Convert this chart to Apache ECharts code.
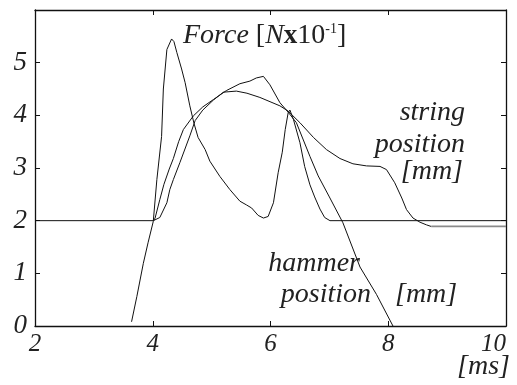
<!DOCTYPE html>
<html>
<head>
<meta charset="utf-8">
<script src="https://cdn.jsdelivr.net/npm/echarts@6/dist/echarts.min.js"></script>
<style>
  html, body { margin: 0; padding: 0; background: #fff; }
  #chart { width: 517px; height: 385px; }
</style>
</head>
<body>
<div id="chart"></div>
<script>
// time [ms] , value
const xTicks = [2, 4, 6, 8, 10]
const yTicks = [0, 1, 2, 3, 4, 5, 6]

// Force [N x 10^-1], drawn offset on the 2 line
const force = [
  [2, 2], [4.01, 2], [4.07, 2.78], [4.15, 3.6], [4.18, 4.5], [4.24, 5.25], [4.32, 5.45],
  [4.36, 5.4], [4.41, 5.19], [4.49, 4.88], [4.55, 4.62], [4.63, 4.18], [4.7, 3.85],
  [4.77, 3.58], [4.89, 3.35], [4.97, 3.13], [5.14, 2.84], [5.31, 2.59], [5.48, 2.37],
  [5.59, 2.3], [5.68, 2.24], [5.79, 2.1], [5.88, 2.05], [5.96, 2.08], [6.05, 2.34],
  [6.13, 2.91], [6.2, 3.3], [6.25, 3.73], [6.3, 4.05], [6.33, 4.1], [6.39, 3.92],
  [6.5, 3.48], [6.58, 3.03], [6.67, 2.68], [6.75, 2.45], [6.84, 2.22], [6.92, 2.06],
  [7.01, 2], [10, 2]
]

// hammer position [mm]
const hammer = [
  [3.64, 0.08], [3.73, 0.56], [3.84, 1.19], [3.92, 1.58], [4.01, 1.99], [4.04, 2.05],
  [4.12, 2.4], [4.19, 2.69], [4.28, 2.98], [4.35, 3.18], [4.44, 3.5], [4.52, 3.73],
  [4.69, 3.99], [4.85, 4.16], [5.03, 4.3], [5.25, 4.47], [5.48, 4.6], [5.65, 4.65],
  [5.76, 4.71], [5.88, 4.74], [5.99, 4.58], [6.16, 4.24], [6.3, 4.06], [6.44, 3.86],
  [6.67, 3.22], [6.81, 2.85], [7.0, 2.45], [7.23, 1.96], [7.52, 1.12], [7.8, 0.6],
  [8.08, 0]
]

// string position [mm]
const stringPos = [
  [4.01, 2], [4.12, 2.06], [4.24, 2.34], [4.29, 2.59], [4.35, 2.78], [4.46, 3.1],
  [4.63, 3.61], [4.72, 3.9], [4.85, 4.1], [5.03, 4.29], [5.2, 4.44], [5.42, 4.46],
  [5.6, 4.42], [5.82, 4.34], [6.16, 4.18], [6.3, 4.08], [6.5, 3.86], [6.73, 3.58],
  [6.95, 3.35], [7.18, 3.18], [7.4, 3.08], [7.63, 3.04], [7.86, 3.03], [7.97, 2.97],
  [8.11, 2.72], [8.23, 2.43], [8.31, 2.21], [8.42, 2.05], [8.54, 1.97], [8.65, 1.92],
  [8.73, 1.89], [10, 1.89]
]
const stringRestFrom = 8.73

const FONT = 'Liberation Serif'

const axisCommon = {
  type: 'value',
  axisLine: { show: true, onZero: false, lineStyle: { color: '#111', width: 1.3 } },
  axisTick: { show: true, inside: true, length: 5, lineStyle: { color: '#111', width: 1 } },
  splitLine: { show: false },
}
const labelStyle = {
  fontFamily: FONT, fontStyle: 'italic', fontSize: 25, color: '#222',
}

const line = (data, color, width) => ({
  type: 'line', data, symbol: 'none', showSymbol: false, animation: false,
  lineStyle: { color, width }, z: 3,
})

const option = {
  animation: false,
  grid: { left: 35, right: 11, top: 10, bottom: 59 },
  xAxis: [
    { ...axisCommon, position: 'bottom', min: xTicks[0], max: xTicks[xTicks.length - 1], interval: 2,
      axisLabel: { ...labelStyle, margin: 6, alignMaxLabel: 'right' } },
    { ...axisCommon, position: 'top', min: xTicks[0], max: xTicks[xTicks.length - 1], interval: 2,
      axisLabel: { show: false } },
  ],
  yAxis: [
    { ...axisCommon, position: 'left', min: yTicks[0], max: yTicks[yTicks.length - 1], interval: 1,
      axisLabel: { ...labelStyle, fontSize: 27, margin: 8, showMaxLabel: false } },
    { ...axisCommon, position: 'right', min: yTicks[0], max: yTicks[yTicks.length - 1], interval: 1,
      axisLabel: { show: false } },
  ],
  series: [
    line(force, '#111', 1),
    line(hammer, '#111', 1),
    line(stringPos.filter(p => p[0] <= stringRestFrom), '#111', 1),
    line(stringPos.filter(p => p[0] >= stringRestFrom), '#8a8a8a', 1.8),
  ],
  graphic: [
    { type: 'text', x: 183, y: 36, style: {
      text: '{i|Force} [{i|N}{b|x}10{s|-1}]',
      font: '28px "Liberation Serif"', fill: '#222', verticalAlign: 'middle',
      rich: {
        i: { fontFamily: FONT, fontStyle: 'italic', fontSize: 28 },
        b: { fontFamily: FONT, fontWeight: 'bold', fontSize: 27 },
        s: { fontFamily: FONT, fontSize: 14, verticalAlign: 'top', padding: [0, 0, 10, 0] },
      } } },
    { type: 'text', x: 465, y: 113, style: { text: 'string', font: 'italic 28px "Liberation Serif"', fill: '#222', align: 'right', verticalAlign: 'middle' } },
    { type: 'text', x: 465, y: 145, style: { text: 'position', font: 'italic 28px "Liberation Serif"', fill: '#222', align: 'right', verticalAlign: 'middle' } },
    { type: 'text', x: 463, y: 172, style: { text: '[mm]', font: 'italic 28px "Liberation Serif"', fill: '#222', align: 'right', verticalAlign: 'middle' } },
    { type: 'text', x: 360, y: 264, style: { text: 'hammer', font: 'italic 28px "Liberation Serif"', fill: '#222', align: 'right', verticalAlign: 'middle' } },
    { type: 'text', x: 371, y: 295, style: { text: 'position', font: 'italic 28px "Liberation Serif"', fill: '#222', align: 'right', verticalAlign: 'middle' } },
    { type: 'text', x: 395, y: 295, style: { text: '[mm]', font: 'italic 28px "Liberation Serif"', fill: '#222', align: 'left', verticalAlign: 'middle' } },
    { type: 'text', x: 510, y: 367, style: { text: '[ms]', font: 'italic 28px "Liberation Serif"', fill: '#222', align: 'right', verticalAlign: 'middle' } },
  ],
}

const myChart = echarts.init(document.getElementById('chart'))
myChart.setOption(option)
</script>
</body>
</html>
